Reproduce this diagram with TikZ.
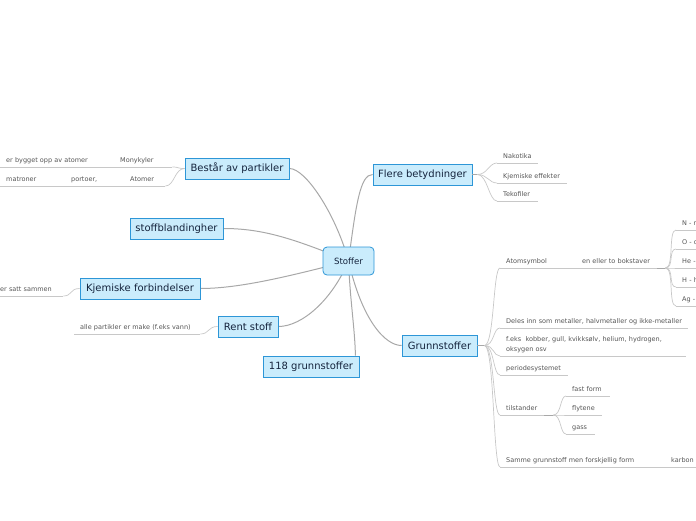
\documentclass[tikz,border=0pt]{standalone}
\usepackage{fontspec}
\setmainfont{DejaVu Sans}
\usetikzlibrary{backgrounds}
\definecolor{nodefill}{RGB}{202,236,252}
\definecolor{nodeline}{RGB}{45,150,215}
\definecolor{nodetext}{RGB}{20,35,60}
\definecolor{branchgray}{RGB}{168,168,168}
\definecolor{twiggray}{RGB}{200,200,200}
\definecolor{leaftext}{RGB}{85,85,85}
\newcommand{\leaffont}{\fontsize{6.5}{9.5}\selectfont}

\begin{document}
\begin{tikzpicture}[x=1pt,y=-1pt,
  topic/.style={rectangle,draw=nodeline,fill=nodefill,text=nodetext,line width=0.8pt,
                minimum height=21pt,inner xsep=5pt,font=\fontsize{10}{12}\selectfont},
  core/.style={topic,rounded corners=4pt,minimum width=51pt,minimum height=28pt,
               font=\fontsize{8.6}{10}\selectfont},
  branch/.style={draw=branchgray,line width=1pt},
  twig/.style={draw=twiggray,line width=0.7pt},
  leaf/.style={anchor=south west,inner xsep=6pt,inner ysep=1.5pt,text width=#1,align=left,
               font=\leaffont,text=leaftext,
               execute at begin node={\hyphenpenalty=10000},execute at end node=\strut,
               append after command={(\tikzlastnode.south west) edge[twig] (\tikzlastnode.south east)}},
]
\useasboundingbox (0,0) rectangle (696,520);
\clip (0,0) rectangle (696,520);

% centre and main topics
\node[core] (stoffer) at (348.5,261) {Stoffer};
\node[topic,minimum width=104pt] (bestar) at (237,168.5) {Består av partikler};
\node[topic,minimum width=93pt] (blanding) at (176.5,228.5) {stoffblandingher};
\node[topic,minimum width=120pt] (kjem) at (140,288.5) {Kjemiske forbindelser};
\node[topic,minimum width=60pt] (rent) at (248,326.5) {Rent stoff};
\node[topic,minimum width=96pt] (g118) at (311,366.5) {118 grunnstoffer};
\node[topic,minimum width=99pt] (flere) at (422.5,174.5) {Flere betydninger};
\node[topic,minimum width=75pt] (grunn) at (439.5,345.5) {Grunnstoffer};

% main branches, behind the boxes
\begin{scope}[on background layer]
\draw[branch] (stoffer.center) .. controls (336,215) and (306,168.5) .. (bestar.east);
\draw[branch] (stoffer.center) .. controls (292,238) and (262,228.5) .. (blanding.east);
\draw[branch] (stoffer.center) .. controls (290,276) and (240,288.5) .. (kjem.east);
\draw[branch] (stoffer.center) .. controls (332,300) and (302,326.5) .. (rent.east);
\draw[branch] (stoffer.center) .. controls (350,300) and (355,330) .. ([xshift=-4pt]g118.north east);
\draw[branch] (stoffer.center) .. controls (356,205) and (360,174.5) .. (flere.west);
\draw[branch] (stoffer.center) .. controls (362,320) and (385,345.5) .. (grunn.west);
\end{scope}

% Består av partikler
\node[leaf=46pt] (monyk) at (114,167) {Monykyler};
\node[leaf=102pt] (bygget) at (0,167) {er bygget opp av atomer};
\node[leaf=29pt] (atomer) at (124,186) {Atomer};
\node[leaf=47pt] (portoer) at (65,186) {portoer,};
\node[leaf=53pt] (matroner) at (0,186) {matroner};
\draw[twig] (bestar.west) .. controls +(-8,0) and +(7,0) .. (monyk.south east);
\draw[twig] (bestar.west) .. controls +(-10,0) and +(9,0) .. (atomer.south east);

% Kjemiske forbindelser, Rent stoff
\node[leaf=57pt] (satt) at (-6,296) {er satt sammen};
\draw[twig] (kjem.west) .. controls +(-10,0) and +(9,0) .. (satt.south east);
\node[leaf=114pt] (make) at (74,334) {alle partikler er make (f.eks vann)};
\draw[twig] (rent.west) .. controls +(-10,0) and +(9,0) .. (make.south east);

% Flere betydninger
\node[leaf=29pt] (nakot) at (497,163) {Nakotika};
\node[leaf=58pt] (kjemeff) at (497,183) {Kjemiske effekter};
\node[leaf=29pt] (tekof) at (497,201) {Tekofiler};
\draw[branch] (flere.east) -- ++(5,0) coordinate (ffan);
\foreach \leafname in {nakot,kjemeff,tekof}
  \draw[twig] (ffan) .. controls +(10,0) and +(-8,0) .. (\leafname.south west);

% Grunnstoffer
\node[leaf=64pt] (atomsym) at (500,268) {Atomsymbol};
\node[leaf=69pt] (bokst) at (576,268) {en eller to bokstaver};
\node[leaf=176pt] (deles) at (500,328) {Deles inn som metaller, halvmetaller og ikke-metaller};
\node[leaf=174pt] (feks) at (500,356) {f.eks\ \ kobber, gull, kvikksølv, helium, hydrogen,\\oksygen osv};
\node[leaf=56pt] (period) at (500,375) {periodesystemet};
\node[leaf=32pt] (tilst) at (500,415) {tilstander};
\node[leaf=153pt] (samme) at (500,467) {Samme grunnstoff men forskjellig form};
\node[leaf=40pt] (karbon) at (665,467) {karbon};
\draw[branch] (grunn.east) -- ++(7,0) coordinate (gfan);
\foreach \leafname in {atomsym,deles,feks,period,tilst,samme}
  \draw[twig] (gfan) .. controls +(10,0) and +(-7,0) .. (\leafname.south west);

% symbols
\draw[branch] (bokst.south east) -- ++(8,0) coordinate (elfan);
\foreach \sym/\yy [count=\k] in {N - n/230, O - o/249, He -/268, H - h/287, Ag -/306}{
  \node[leaf=30pt] (el\k) at (676,\yy) {\sym};
  \draw[twig] (elfan) .. controls +(9,0) and +(-8,0) .. (el\k.south west);
}

% tilstander
\draw[branch] (tilst.south east) -- ++(9,0) coordinate (tfan);
\foreach \txt/\yy/\w [count=\k] in {fast form/396/32pt, flytene/415/24pt, gass/434/17pt}{
  \node[leaf=\w] (state\k) at (566,\yy) {\txt};
  \draw[twig] (tfan) .. controls +(8,0) and +(-6,0) .. (state\k.south west);
}
\end{tikzpicture}
\end{document}
